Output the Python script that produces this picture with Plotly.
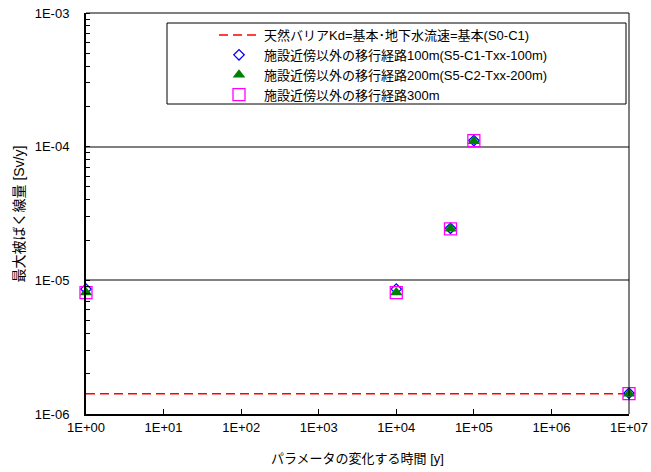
import plotly.graph_objects as go

# Data
base_x = [1, 1e7]
base_y = [1.42e-6, 1.42e-6]
pts_x = [1, 1e4, 5e4, 1e5, 1e7]
s100_y = [8.6e-6, 8.6e-6, 2.45e-5, 1.11e-4, 1.43e-6]
s200_y = [8.1e-6, 8.1e-6, 2.43e-5, 1.10e-4, 1.42e-6]
s300_y = [8.1e-6, 8.1e-6, 2.43e-5, 1.11e-4, 1.42e-6]
names = [
    "天然バリアKd=基本･地下水流速=基本(S0-C1)",
    "施設近傍以外の移行経路100m(S5-C1-Txx-100m)",
    "施設近傍以外の移行経路200m(S5-C2-Txx-200m)",
    "施設近傍以外の移行経路300m",
]
x_tickvals = [1, 1e1, 1e2, 1e3, 1e4, 1e5, 1e6, 1e7]
x_ticktext = ["1E+00", "1E+01", "1E+02", "1E+03", "1E+04", "1E+05", "1E+06", "1E+07"]
y_tickvals = [1e-6, 1e-5, 1e-4, 1e-3]
y_ticktext = ["1E-06", "1E-05", "1E-04", "1E-03"]
x_title = "パラメータの変化する時間 [y]"
y_title = "最大被ばく線量 [Sv/y]"

FONT = "Liberation Sans, Arial, Noto Sans CJK JP, sans-serif"

fig = go.Figure()
fig.add_trace(go.Scatter(x=base_x, y=base_y, mode="lines", name=names[0],
                         line=dict(color="#ff0000", width=1.5, dash="9px,5px")))
fig.add_trace(go.Scatter(x=pts_x, y=s100_y, mode="markers", name=names[1], cliponaxis=False,
                         marker=dict(symbol="diamond-open", size=8, color="#0000ff",
                                     line=dict(width=1.3, color="#0000ff"))))
fig.add_trace(go.Scatter(x=pts_x, y=s200_y, mode="markers", name=names[2], cliponaxis=False,
                         marker=dict(symbol="triangle-up", size=11, color="#008000",
                                     line=dict(width=0))))
fig.add_trace(go.Scatter(x=pts_x, y=s300_y, mode="markers", name=names[3], cliponaxis=False,
                         marker=dict(symbol="square-open", size=12, color="#ff00ff",
                                     line=dict(width=1.3, color="#ff00ff"))))

# legend frame
fig.add_shape(type="rect", xref="paper", yref="paper",
              x0=(167 - 86) / 543, x1=(626 - 86) / 543,
              y0=(414 - 104) / 401, y1=(414 - 23) / 401,
              line=dict(color="black", width=1), fillcolor="white", layer="below")
# thin top and right frame lines
fig.add_shape(type="line", xref="paper", yref="paper", x0=0, x1=1, y0=1, y1=1,
              line=dict(color="black", width=1))
fig.add_shape(type="line", xref="paper", yref="paper", x0=1, x1=1, y0=0, y1=1,
              line=dict(color="black", width=1))

# axis titles
fig.add_annotation(text=x_title, xref="paper", yref="paper", x=0.5, y=(414 - 458) / 401,
                   xanchor="center", yanchor="middle", showarrow=False,
                   font=dict(size=13, family=FONT, color="black"))
fig.add_annotation(text=y_title, xref="paper", yref="paper", x=(18 - 86) / 543, y=0.5,
                   xanchor="center", yanchor="middle", showarrow=False, textangle=-90,
                   font=dict(size=14, family=FONT, color="black"))

fig.update_layout(
    width=651, height=472,
    margin=dict(l=86, r=22, t=13, b=58),
    paper_bgcolor="white", plot_bgcolor="white",
    font=dict(family=FONT, size=13, color="black"),
    showlegend=True,
    legend=dict(x=(214 - 86) / 543, y=(414 - 20) / 401, xanchor="left", yanchor="top",
                bgcolor="rgba(0,0,0,0)", borderwidth=0, font=dict(size=13, family=FONT),
                tracegroupgap=0, itemwidth=40),
    xaxis=dict(type="log", range=[0, 7], tickvals=x_tickvals, ticktext=x_ticktext,
               ticks="inside", ticklen=5, tickwidth=1, tickcolor="black",
               showline=True, linecolor="black", linewidth=2, mirror=False,
               showgrid=False, zeroline=False, automargin=False,
               tickfont=dict(size=13, family=FONT)),
    yaxis=dict(type="log", range=[-6, -3], tickvals=y_tickvals, ticktext=y_ticktext,
               ticks="outside", ticklen=12, tickwidth=1, tickcolor="rgba(0,0,0,0)",
               minor=dict(ticks="inside", ticklen=4, tickcolor="black", dtick="D1", showgrid=False),
               showline=True, linecolor="black", linewidth=2, mirror=False,
               showgrid=True, gridcolor="#808080", gridwidth=2, zeroline=False,
               automargin=False,
               tickfont=dict(size=13, family=FONT)),
)

fig.write_html("out.html")
